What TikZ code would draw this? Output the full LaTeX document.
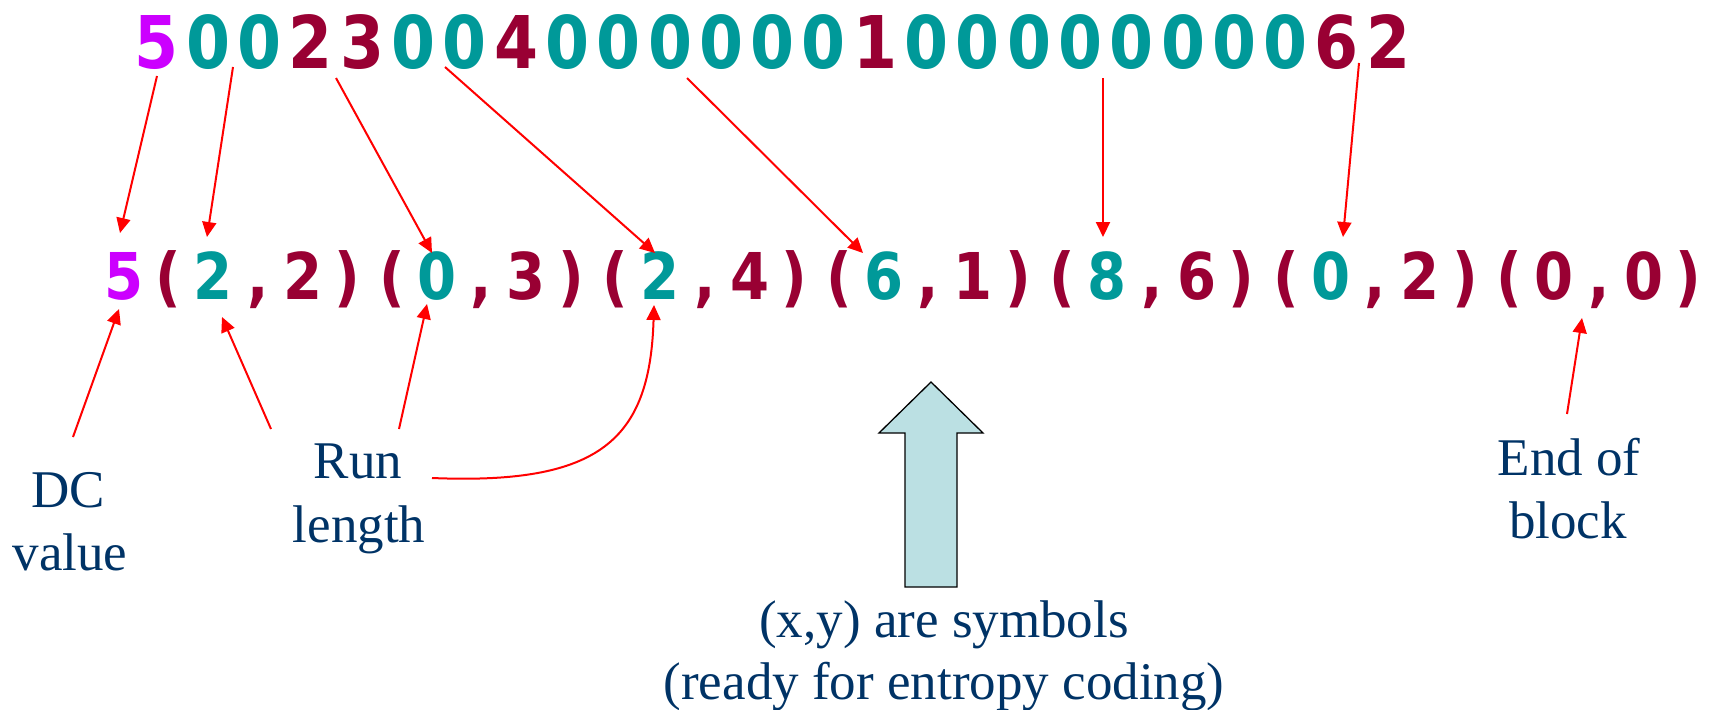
\documentclass[tikz,border=0pt]{standalone}
\usepackage{fontspec}
\setmainfont{Liberation Serif}
\newfontfamily\digitfont[FakeStretch=0.87]{DejaVu Sans}
\usetikzlibrary{arrows.meta}
\definecolor{cmag}{RGB}{204,0,255}
\definecolor{cteal}{RGB}{0,153,153}
\definecolor{ccrim}{RGB}{153,0,51}
\definecolor{cnavy}{RGB}{0,51,102}
\definecolor{cblock}{RGB}{187,224,227}
\newcommand\mylp{(}
\newcommand\myrp{)}
\newcommand\mycm{,}
\begin{document}
\begin{tikzpicture}[x=1pt,y=-1pt,
  topc/.style={inner sep=0pt, anchor=base, font=\digitfont\bfseries\fontsize{72.7}{80}\selectfont},
  midc/.style={inner sep=0pt, anchor=base, font=\digitfont\bfseries\fontsize{64.5}{70}\selectfont},
  lbl/.style={inner sep=0pt, anchor=base, text=cnavy, font=\fontsize{53}{63}\selectfont},
  redarr/.style={draw=red, line width=2pt, -{Triangle[length=15pt,width=14pt]}},
  blockarrow/.style={draw=black, fill=cblock, line width=1.3pt, line join=miter}]
\useasboundingbox (0,0) rectangle (1712,709);
% top row
\foreach \c/\col [count=\i from 0] in {5/cmag,0/cteal,0/cteal,2/ccrim,3/ccrim,0/cteal,0/cteal,4/ccrim,0/cteal,0/cteal,0/cteal,0/cteal,0/cteal,0/cteal,1/ccrim,0/cteal,0/cteal,0/cteal,0/cteal,0/cteal,0/cteal,0/cteal,0/cteal,6/ccrim,2/ccrim}
  \node[topc, text=\col] (t\i) at ({157+51.3*\i},68) {\c};
% middle row
\foreach \c/\col [count=\i from 0] in {5/cmag,
  \mylp/ccrim,2/cteal,\mycm/ccrim,2/ccrim,\myrp/ccrim,
  \mylp/ccrim,0/cteal,\mycm/ccrim,3/ccrim,\myrp/ccrim,
  \mylp/ccrim,2/cteal,\mycm/ccrim,4/ccrim,\myrp/ccrim,
  \mylp/ccrim,6/cteal,\mycm/ccrim,1/ccrim,\myrp/ccrim,
  \mylp/ccrim,8/cteal,\mycm/ccrim,6/ccrim,\myrp/ccrim,
  \mylp/ccrim,0/cteal,\mycm/ccrim,2/ccrim,\myrp/ccrim,
  \mylp/ccrim,0/ccrim,\mycm/ccrim,0/ccrim,\myrp/ccrim}
  \node[midc, text=\col] (m\i) at ({124+44.7*\i},299) {\c};
% labels
\node[lbl] (dc1) at (68,507) {DC};
\node[lbl] (dc2) at (70,570) {value};
\node[lbl] (rl1) at (358,478) {Run};
\node[lbl] (rl2) at (359,542) {length};
\node[lbl] (eb1) at (1569,475) {End of};
\node[lbl] (eb2) at (1568,538) {block};
\node[lbl] (sy1) at (944,637) {(x,y) are symbols};
\node[lbl] (sy2) at (944,699) {(ready for entropy coding)};
% block arrow
\draw[blockarrow] (905,587) -- (905,433) -- (879,433) -- (931,382) -- (983,433) -- (957,433) -- (957,587) -- cycle;
% arrow end points
\coordinate (a1s) at (157,76);  \coordinate (a1e) at (120,233);
\coordinate (a2s) at (233,67);  \coordinate (a2e) at (207,237);
\coordinate (a3s) at (336,78);  \coordinate (a3e) at (432,253);
\coordinate (a4s) at (445,67);  \coordinate (a4e) at (655,253);
\coordinate (a5s) at (687,78);  \coordinate (a5e) at (863,253);
\coordinate (a6s) at (1103,78); \coordinate (a6e) at (1103,237);
\coordinate (a7s) at (1359,63); \coordinate (a7e) at (1343,237);
\coordinate (b1s) at (73,437);  \coordinate (b1e) at (119,309);
\coordinate (b2s) at (271,429); \coordinate (b2e) at (222,317);
\coordinate (b3s) at (399,429); \coordinate (b3e) at (427,304);
\coordinate (b4s) at (432,478); \coordinate (b4e) at (654,305);
\coordinate (b5s) at (1567,414); \coordinate (b5e) at (1582,318);
\foreach \k in {1,...,7} \draw[redarr] (a\k s) -- (a\k e);
\draw[redarr] (b1s) -- (b1e);
\draw[redarr] (b2s) -- (b2e);
\draw[redarr] (b3s) -- (b3e);
\draw[redarr] (b4s) .. controls (600,485) and (650,440) .. (b4e);
\draw[redarr] (b5s) -- (b5e);
\end{tikzpicture}
\end{document}
